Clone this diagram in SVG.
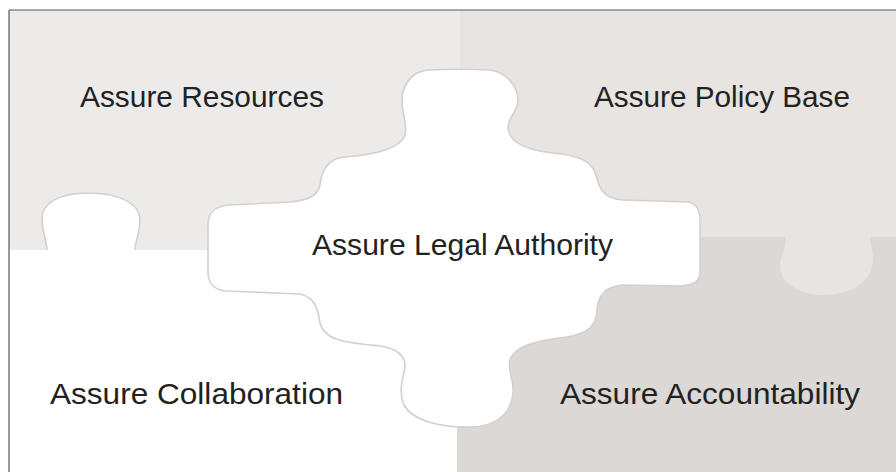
<svg xmlns="http://www.w3.org/2000/svg" width="896" height="472" viewBox="0 0 896 472">
<style>
.lbl{font-family:"Liberation Sans",Arial,sans-serif;font-size:30px;fill:#222;}
.edge{fill:none;stroke:#d6cfcd;stroke-width:1.6;}
</style>
<rect x="0" y="0" width="896" height="472" fill="#ffffff"/>
<g id="accountability">
<rect x="457" y="237" width="439" height="235" fill="#dcd8d6"/>
<text class="lbl" x="560" y="404" textLength="300" lengthAdjust="spacingAndGlyphs">Assure Accountability</text>
</g>
<g id="resources">
<rect x="9" y="10" width="451" height="240" fill="#edebea"/>
<text class="lbl" x="80" y="107" textLength="244" lengthAdjust="spacingAndGlyphs">Assure Resources</text>
</g>
<g id="policy-base">
<path d="M460,10 H896 V237 H870 C870,244 873,250 873,260 C873,280 852,295 823,295 C800,295 780,283 780,267 C780,255 787,249 785,237 H460 Z" fill="#e8e4e2"/>
<text class="lbl" x="594" y="107" textLength="256" lengthAdjust="spacingAndGlyphs">Assure Policy Base</text>
</g>
<g id="collaboration">
<path d="M9,250 H47 C47,242 42,232 42,218 C42,203 60,193 88,193 C118,193 140,203 140,220 C140,234 135,240 135,250 H457 V472 H9 Z" fill="#ffffff"/>
<path class="edge" d="M47,250 C47,242 42,232 42,218 C42,203 60,193 88,193 C118,193 140,203 140,220 C140,234 135,240 135,250"/>
<text class="lbl" x="50" y="404" textLength="293" lengthAdjust="spacingAndGlyphs">Assure Collaboration</text>
</g>
<g id="legal-authority">
<path class="edge" fill="#ffffff" style="fill:#ffffff" d="M427,70 C450,69 470,69 490,70 C505,72 518,85 518,100 C518,112 507,118 508,128 C509,142 525,150 553,153 C575,155 592,160 596,175 C599,188 603,199 623,200 L687,202 C697,203 700,210 700,222 L700,272 C700,282 693,285 680,286 L623,285 C605,286 598,295 597,310 C596,325 590,333 567,337 C540,340 515,345 510,360 C507,370 514,380 513,392 C512,412 497,427 470,427 C440,428 412,420 404,405 C398,392 403,378 405,367 C406,355 395,348 380,346 C350,343 325,342 320,323 C318,308 314,297 300,294 L227,291 C215,290 208,285 208,272 L208,225 C208,212 215,206 230,205 L290,202 C310,200 318,195 320,185 C322,168 330,158 345,157 C370,155 400,150 405,135 C408,125 402,115 402,100 C402,85 412,72 427,70 Z"/>
<text class="lbl" x="312" y="255" textLength="301" lengthAdjust="spacingAndGlyphs">Assure Legal Authority</text>
</g>
<g id="connectors"></g>
<g id="frame" fill="none" stroke="#555555" stroke-width="1.2">
<line x1="9" y1="10" x2="896" y2="10"/>
<line x1="9" y1="10" x2="9" y2="472"/>
</g>
</svg>
